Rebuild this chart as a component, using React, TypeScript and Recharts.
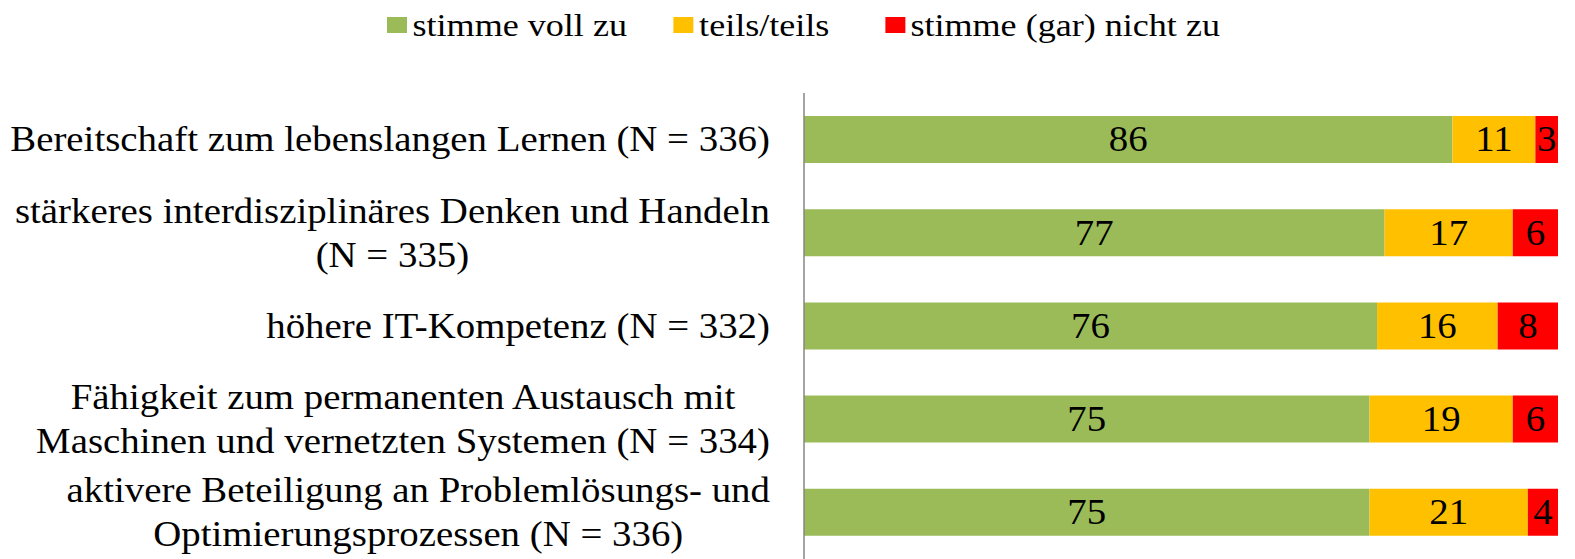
import React from 'react';
import { BarChart, Bar, XAxis, YAxis, LabelList } from 'recharts';

const categories = [
  'Bereitschaft zum lebenslangen Lernen (N = 336)',
  'stärkeres interdisziplinäres Denken und Handeln\n(N = 335)',
  'höhere IT-Kompetenz (N = 332)',
  'Fähigkeit zum permanenten Austausch mit\nMaschinen und vernetzten Systemen (N = 334)',
  'aktivere Beteiligung an Problemlösungs- und\nOptimierungsprozessen (N = 336)',
];
const vollZu = [86, 77, 76, 75, 75];
const teils = [11, 17, 16, 19, 21];
const nichtZu = [3, 6, 8, 6, 4];

const seriesNames = ['stimme voll zu', 'teils/teils', 'stimme (gar) nicht zu'];
const colors = ['#9BBB59', '#FFC000', '#FF0000'];

const FONT = '"Liberation Serif", "Times New Roman", serif';
const FONT_SIZE = 35;
const LEGEND_FONT = 32.5;
const SX = 1.11; // the source image is slightly stretched horizontally
const LINE_H = 44;

const data = categories.map((name, i) => ({
  name,
  voll: vollZu[i],
  teils: teils[i],
  nicht: nichtZu[i],
}));

// measure text so multi-line labels can be centred inside a right-aligned block
let ctx: CanvasRenderingContext2D | null = null;
const measure = (s: string) => {
  if (!ctx) {
    ctx = document.createElement('canvas').getContext('2d');
  }
  if (!ctx) return s.length * FONT_SIZE * 0.45;
  ctx.font = `${FONT_SIZE}px "Liberation Serif"`;
  return ctx.measureText(s).width;
};

const CategoryTick = (props: any) => {
  const { x, y, payload } = props;
  const lines: string[] = String(payload.value).split('\n');
  const maxW = Math.max(...lines.map(measure));
  return (
    <g transform={`translate(${x},${y}) scale(${SX},1)`}>
      {lines.map((line, i) => (
        <text
          key={i}
          x={-maxW / 2}
          y={(i - (lines.length - 1) / 2) * LINE_H}
          textAnchor="middle"
          dominantBaseline="central"
          fontFamily={FONT}
          fontSize={FONT_SIZE}
          fill="#000"
        >
          {line}
        </text>
      ))}
    </g>
  );
};

const BarValue = (props: any) => {
  const { x, y, width, height, value } = props;
  const cx = Number(x) + Number(width) / 2;
  const cy = Number(y) + Number(height) / 2;
  return (
    <text
      transform={`translate(${cx},${cy}) scale(${SX},1)`}
      textAnchor="middle"
      dominantBaseline="central"
      fontFamily={FONT}
      fontSize={FONT_SIZE}
      fill="#000"
    >
      {value}
    </text>
  );
};

const legendGaps = [42, 50, 0];

const ChartLegend = () => (
  <div
    style={{
      position: 'absolute',
      left: 387,
      top: 0,
      height: 50,
      display: 'flex',
      alignItems: 'center',
      transform: `scaleX(${SX})`,
      transformOrigin: '0 0',
      fontFamily: FONT,
      fontSize: LEGEND_FONT,
      whiteSpace: 'nowrap',
    }}
  >
    {seriesNames.map((n, i) => (
      <div key={n} style={{ display: 'flex', alignItems: 'center', marginRight: legendGaps[i] }}>
        <span style={{ width: 18, height: 16, background: colors[i], display: 'inline-block', marginRight: 5 }} />
        <span style={{ color: '#000' }}>{n}</span>
      </div>
    ))}
  </div>
);

export default function App() {
  return (
    <div style={{ position: 'absolute', left: 0, top: 0, width: 1575, height: 559, background: '#fff', overflow: 'hidden' }}>
      <BarChart
        width={1575}
        height={559}
        data={data}
        layout="vertical"
        margin={{ top: 93, right: 17, bottom: 0, left: 0 }}
        barSize={47}
      >
        <XAxis type="number" domain={[0, 100]} hide />
        <YAxis
          type="category"
          dataKey="name"
          width={804}
          tickLine={false}
          tickSize={0}
          tickMargin={34}
          axisLine={{ stroke: '#868686', strokeWidth: 1.5 }}
          tick={<CategoryTick />}
          interval={0}
        />
        <Bar dataKey="voll" stackId="a" fill={colors[0]} name={seriesNames[0]} isAnimationActive={false}>
          <LabelList dataKey="voll" content={<BarValue />} />
        </Bar>
        <Bar dataKey="teils" stackId="a" fill={colors[1]} name={seriesNames[1]} isAnimationActive={false}>
          <LabelList dataKey="teils" content={<BarValue />} />
        </Bar>
        <Bar dataKey="nicht" stackId="a" fill={colors[2]} name={seriesNames[2]} isAnimationActive={false}>
          <LabelList dataKey="nicht" content={<BarValue />} />
        </Bar>
      </BarChart>
      <ChartLegend />
    </div>
  );
}
